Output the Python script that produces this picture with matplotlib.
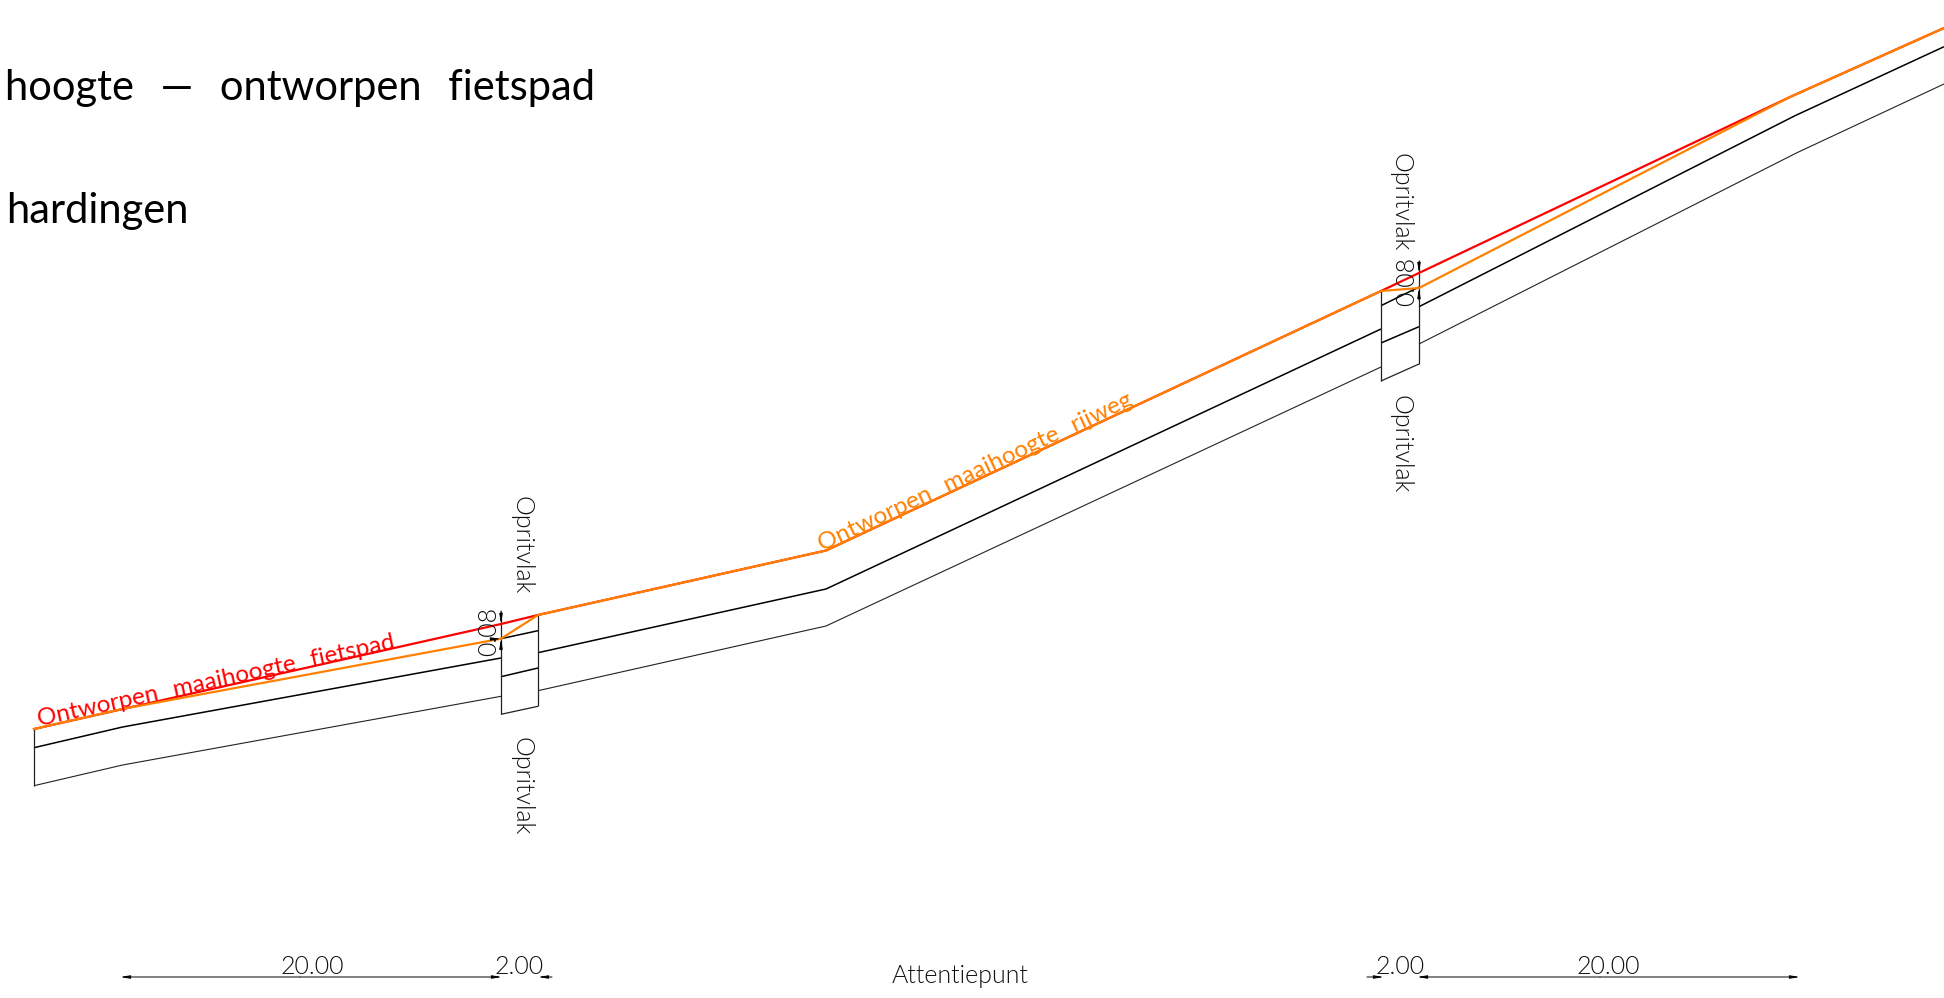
import matplotlib
matplotlib.use("Agg")
import matplotlib.pyplot as plt

plt.rcParams['font.family'] = ['Lato', 'DejaVu Sans']

# Profile polylines, in drawing units
red_x = [34, 501, 538, 826, 1381, 1790, 1944]
red_y = [729, 624, 615, 550.5, 291, 97, 28]
orange_left_x = [34, 122, 501, 538, 826, 1381]
orange_left_y = [729, 709, 638.7, 615, 550.5, 291]
orange_right_x = [1381, 1419, 1790, 1944]
orange_right_y = [291, 288, 97, 28]

top_segments = [
    ([34, 122.6, 501], [747.7, 727, 658]),
    ([501, 538], [638.7, 630.7]),
    ([538, 826, 1381], [652.7, 589, 329]),
    ([1381, 1419], [305.7, 287]),
    ([1419, 1795, 1944], [306.7, 115.7, 46.7]),
]
mid_segments = [
    ([501, 538], [676.7, 668]),
    ([1381, 1419], [343, 326.7]),
]
bottom_segments = [
    ([34, 122.6, 501], [785.7, 765, 696.3]),
    ([538, 826, 1381], [690.7, 626, 367]),
    ([1419, 1797, 1944], [344, 152.7, 84]),
]
box_segments = [
    ([34, 34], [729, 785.7]),
    ([501, 501], [611, 714.3]),
    ([538, 538], [615, 706.3]),
    ([501, 538], [714.3, 706.3]),
    ([1381, 1381], [291, 381]),
    ([1419, 1419], [260, 364]),
    ([1381, 1419], [381, 364]),
]
# Dimension arrows: (x_start, y_start, x_tip, y_tip)
dim_arrows = [
    (501, 611, 501, 624), (501, 650, 501, 638.7),
    (1419, 262, 1419, 273), (1419, 300, 1419, 288),
    (492, 639, 501, 638.7),
    (300, 977, 120, 977), (300, 977, 502, 977),
    (552, 977, 538, 977),
    (1367, 977, 1384, 977),
    (1600, 977, 1417, 977), (1600, 977, 1800, 977),
]

GAP = "  \u2009"
titles = [(GAP.join(["hoogte", "—", "ontworpen", "fietspad"]), 595, 100),
          ("hardingen", 189, 222.7)]
dim_labels = [("20.00", 312, 974), ("2.00", 519, 974), ("2.00", 1400, 974),
              ("20.00", 1608, 974), ("Attentiepunt", 960, 983)]
oprit_labels = [(521, 545), (521, 786), (1400, 202), (1400, 444)]
height_labels = [(489, 631), (1407, 281)]

fig = plt.figure(figsize=(19.44, 9.98), dpi=100)
ax = fig.add_axes([0, 0, 1, 1])
ax.set_xlim(0, 1944)
ax.set_ylim(998, 0)
ax.axis('off')

for xs, ys in top_segments + mid_segments:
    ax.plot(xs, ys, color='black', lw=1.1, solid_capstyle='butt')
for xs, ys in bottom_segments:
    ax.plot(xs, ys, color='#222222', lw=0.8, solid_capstyle='butt')
for xs, ys in box_segments:
    ax.plot(xs, ys, color='#222222', lw=0.9, solid_capstyle='butt')

ax.plot(red_x, red_y, color='#ff0000', lw=1.6)
ax.plot(orange_left_x, orange_left_y, color='#ff8000', lw=1.6)
ax.plot(orange_right_x, orange_right_y, color='#ff8000', lw=1.6)

for x0, y0, x1, y1 in dim_arrows:
    ax.annotate('', xy=(x1, y1), xytext=(x0, y0),
                arrowprops=dict(arrowstyle='-|>,head_length=0.55,head_width=0.09',
                                color='black', lw=0.7, shrinkA=0, shrinkB=0))

for s, x, y in titles:
    ax.text(x, y, s, ha='right', va='baseline', fontsize=30, color='black')
for s, x, y in dim_labels:
    ax.text(x, y, s, ha='center', va='baseline', fontsize=18, color='#111111',
            fontweight=300)
for x, y in oprit_labels:
    ax.text(x, y, 'Opritvlak', rotation=-90, ha='center', va='center',
            fontsize=18, color='#111111', fontweight=300)
for x, y in height_labels:
    ax.text(x, y, '0.08', rotation=90, ha='center', va='center',
            fontsize=18, color='#111111', fontweight=300)

ax.text(39, 726, GAP.join(['Ontworpen', 'maaihoogte', 'fietspad']), rotation=12.3,
        rotation_mode='anchor', ha='left', va='baseline', fontsize=17.5, color='#ff0000')
ax.text(822, 551, GAP.join(['Ontworpen', 'maaihoogte', 'rijweg']), rotation=25.2,
        rotation_mode='anchor', ha='left', va='baseline', fontsize=17.5, color='#ff8000')

fig.savefig('out.png', dpi=100)
